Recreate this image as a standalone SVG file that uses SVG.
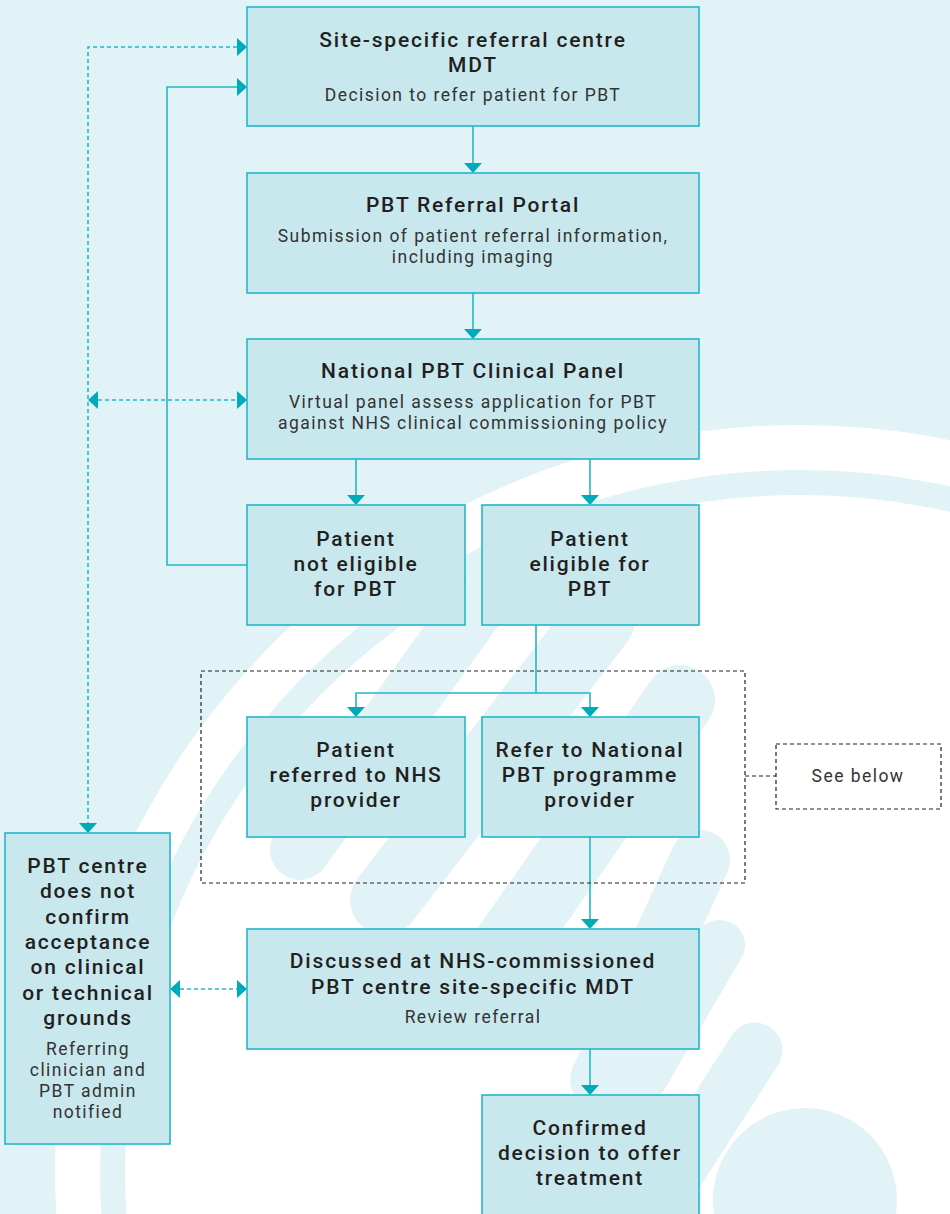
<svg xmlns="http://www.w3.org/2000/svg" width="950" height="1214" viewBox="0 0 950 1214">
<style>
.node{fill:#c9e8ee;stroke:#22b7c7;stroke-width:1.6}
.t{font-family:Roboto,"Liberation Sans",sans-serif;font-size:21px;font-weight:500;letter-spacing:1.8px;fill:#231f20;text-anchor:middle}
.s{font-family:Roboto,"Liberation Sans",sans-serif;font-size:17.5px;font-weight:400;letter-spacing:1.45px;fill:#333;text-anchor:middle}
.c{fill:none;stroke:#22b7c7;stroke-width:1.6}
.cd{fill:none;stroke:#22b7c7;stroke-width:1.6;stroke-dasharray:4 3}
.bd{fill:none;stroke:#222;stroke-width:1.2;stroke-dasharray:4 3}
.ah{fill:#00abb9}
.bgc{fill:#e1f3f6}
</style>
<defs>
<clipPath id="inner"><circle cx="800" cy="1170" r="675"/></clipPath>
</defs>
<g id="background">
<rect x="0" y="0" width="950" height="1214" class="bgc"/>
<circle cx="800" cy="1170" r="745" fill="#ffffff"/>
<circle cx="800" cy="1170" r="700" class="bgc"/>
<circle cx="800" cy="1170" r="675" fill="#ffffff"/>
<g clip-path="url(#inner)" stroke="#e1f3f6" stroke-linecap="round" fill="none">
<line x1="300" y1="850" x2="480" y2="600" stroke-width="60"/>
<line x1="385" y1="900" x2="600" y2="620" stroke-width="70"/>
<line x1="470" y1="1000" x2="680" y2="700" stroke-width="70"/>
<line x1="600" y1="1080" x2="700" y2="860" stroke-width="60"/>
<line x1="720" y1="945" x2="600" y2="1150" stroke-width="50"/>
<line x1="755" y1="1050" x2="650" y2="1214" stroke-width="55"/>
</g>
<circle cx="805" cy="1200" r="92" class="bgc"/>
</g>
<g id="connectors">
<line x1="473" y1="126" x2="473" y2="163" class="c"/>
<polygon points="464,163 482,163 473,173" class="ah"/>
<line x1="473" y1="293" x2="473" y2="329" class="c"/>
<polygon points="464,329 482,329 473,339" class="ah"/>
<line x1="356" y1="459" x2="356" y2="495" class="c"/>
<polygon points="347,495 365,495 356,505" class="ah"/>
<line x1="590" y1="459" x2="590" y2="495" class="c"/>
<polygon points="581,495 599,495 590,505" class="ah"/>
<polyline points="536,625 536,693" class="c"/>
<polyline points="356,707 356,693 590,693 590,707" class="c"/>
<polygon points="347,707 365,707 356,717" class="ah"/>
<polygon points="581,707 599,707 590,717" class="ah"/>
<line x1="590" y1="837" x2="590" y2="919" class="c"/>
<polygon points="581,919 599,919 590,929" class="ah"/>
<line x1="590" y1="1049" x2="590" y2="1085" class="c"/>
<polygon points="581,1085 599,1085 590,1095" class="ah"/>
<polyline points="247,565 167,565 167,87 237,87" class="c"/>
<polygon points="237,78 237,96 247,87" class="ah"/>
<polyline points="237,47 88,47 88,823" class="cd"/>
<polygon points="237,38 237,56 247,47" class="ah"/>
<polygon points="79,823 97,823 88,833" class="ah"/>
<line x1="98" y1="400" x2="237" y2="400" class="cd"/>
<polygon points="98,391 98,409 88,400" class="ah"/>
<polygon points="237,391 237,409 247,400" class="ah"/>
<line x1="180" y1="989" x2="237" y2="989" class="cd"/>
<polygon points="180,980 180,998 170,989" class="ah"/>
<polygon points="237,980 237,998 247,989" class="ah"/>
<rect x="201" y="671" width="544" height="212" class="bd"/>
<line x1="745" y1="776" x2="776" y2="776" class="bd"/>
</g>
<g id="n1">
<rect x="247" y="7" width="452" height="119" class="node"/>
<text x="473" y="47" class="t">Site-specific referral centre</text>
<text x="473" y="72" class="t">MDT</text>
<text x="473" y="101" class="s">Decision to refer patient for PBT</text>
</g>
<g id="n2">
<rect x="247" y="173" width="452" height="120" class="node"/>
<text x="473" y="212" class="t">PBT Referral Portal</text>
<text x="473" y="242" class="s">Submission of patient referral information,</text>
<text x="473" y="263" class="s">including imaging</text>
</g>
<g id="n3">
<rect x="247" y="339" width="452" height="120" class="node"/>
<text x="473" y="378" class="t">National PBT Clinical Panel</text>
<text x="473" y="408" class="s">Virtual panel assess application for PBT</text>
<text x="473" y="429" class="s">against NHS clinical commissioning policy</text>
</g>
<g id="n4">
<rect x="247" y="505" width="218" height="120" class="node"/>
<text x="356" y="546" class="t">Patient</text>
<text x="356" y="571" class="t">not eligible</text>
<text x="356" y="596" class="t">for PBT</text>
</g>
<g id="n5">
<rect x="482" y="505" width="217" height="120" class="node"/>
<text x="590" y="546" class="t">Patient</text>
<text x="590" y="571" class="t">eligible for</text>
<text x="590" y="596" class="t">PBT</text>
</g>
<g id="n6">
<rect x="247" y="717" width="218" height="120" class="node"/>
<text x="356" y="757" class="t">Patient</text>
<text x="356" y="782" class="t">referred to NHS</text>
<text x="356" y="807" class="t">provider</text>
</g>
<g id="n7">
<rect x="482" y="717" width="217" height="120" class="node"/>
<text x="590" y="757" class="t">Refer to National</text>
<text x="590" y="782" class="t">PBT programme</text>
<text x="590" y="807" class="t">provider</text>
</g>
<g id="n-see-below">
<rect x="776" y="744" width="165" height="65" class="bd"/>
<text x="858" y="782" class="s">See below</text>
</g>
<g id="n8">
<rect x="5" y="833" width="165" height="311" class="node"/>
<text x="88" y="873" class="t">PBT centre</text>
<text x="88" y="898" class="t">does not</text>
<text x="88" y="924" class="t">confirm</text>
<text x="88" y="949" class="t">acceptance</text>
<text x="88" y="974" class="t">on clinical</text>
<text x="88" y="1000" class="t">or technical</text>
<text x="88" y="1025" class="t">grounds</text>
<text x="88" y="1055" class="s">Referring</text>
<text x="88" y="1076" class="s">clinician and</text>
<text x="88" y="1097" class="s">PBT admin</text>
<text x="88" y="1118" class="s">notified</text>
</g>
<g id="n9">
<rect x="247" y="929" width="452" height="120" class="node"/>
<text x="473" y="968" class="t">Discussed at NHS-commissioned</text>
<text x="473" y="994" class="t">PBT centre site-specific MDT</text>
<text x="473" y="1023" class="s">Review referral</text>
</g>
<g id="n10">
<rect x="482" y="1095" width="217" height="130" class="node"/>
<text x="590" y="1135" class="t">Confirmed</text>
<text x="590" y="1160" class="t">decision to offer</text>
<text x="590" y="1185" class="t">treatment</text>
</g>
</svg>
